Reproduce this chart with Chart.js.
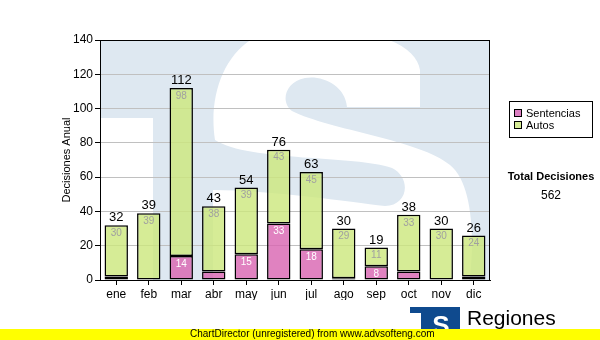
<!DOCTYPE html>
<html>
<head>
<meta charset="utf-8">
<title>Decisiones Anual</title>
<script src="https://cdn.jsdelivr.net/npm/chart.js@4.4.1/dist/chart.umd.min.js"></script>
<style>
  html, body { margin: 0; padding: 0; background: #fff; }
  #wrap { width: 600px; height: 340px; }
</style>
</head>
<body>
<div id="wrap"><canvas id="myChart" width="600" height="340"></canvas></div>
<script>
// monthly decisions, stacked: sentencias at the bottom, autos on top
const meses = ['ene', 'feb', 'mar', 'abr', 'may', 'jun', 'jul', 'ago', 'sep', 'oct', 'nov', 'dic'];
const sentencias = [2, 0, 14, 5, 15, 33, 18, 1, 8, 5, 0, 2];
const autos = [30, 39, 98, 38, 39, 43, 45, 29, 11, 33, 30, 24];
const totales = [32, 39, 112, 43, 54, 76, 63, 30, 19, 38, 30, 26];
const yMax = 140;
const yStep = 20;

const totalDecisiones = totales.reduce((a, b) => a + b, 0);

const FONT = '"Liberation Sans", Arial, sans-serif';

// the big "TS" logo behind the plot area
function drawWatermark(ctx, a) {
  const L = a.left, T = a.top;
  const P = (u, v) => [L + u, T + v];
  ctx.save();
  ctx.beginPath();
  ctx.rect(a.left, a.top, a.right - a.left, a.bottom - a.top);
  ctx.clip();

  // blue field with the white letters cut out (evenodd)
  ctx.beginPath();
  ctx.rect(a.left, a.top, a.right - a.left, a.bottom - a.top);
  // white area left of the T stem
  ctx.rect(L, T + 78, 53, 170);
  // the S
  ctx.moveTo(...P(115, 100));
  ctx.bezierCurveTo(...P(108, 55), ...P(125, 10), ...P(160, -5));
  ctx.lineTo(...P(270, -5));
  ctx.bezierCurveTo(...P(300, 0), ...P(318, 15), ...P(320, 30));
  ctx.lineTo(...P(320, 67));
  ctx.lineTo(...P(247, 67));
  ctx.bezierCurveTo(...P(245, 45), ...P(222, 35), ...P(205, 38));
  ctx.bezierCurveTo(...P(185, 42), ...P(180, 62), ...P(192, 71));
  ctx.bezierCurveTo(...P(230, 90), ...P(320, 100), ...P(350, 125));
  ctx.bezierCurveTo(...P(375, 145), ...P(375, 210), ...P(368, 250));
  ctx.lineTo(...P(113, 250));
  ctx.lineTo(...P(113, 150));
  ctx.bezierCurveTo(...P(170, 150), ...P(250, 162), ...P(285, 166));
  ctx.bezierCurveTo(...P(308, 166), ...P(312, 138), ...P(292, 128));
  ctx.bezierCurveTo(...P(255, 115), ...P(150, 122), ...P(115, 100));
  ctx.closePath();
  ctx.fillStyle = '#dee8f1';
  ctx.fill('evenodd');
  ctx.restore();
}

const decorPlugin = {
  id: 'decor',
  beforeDraw(chart) {
    const ctx = chart.ctx;
    ctx.save();
    ctx.fillStyle = '#ffffff';
    ctx.fillRect(0, 0, chart.width, chart.height);
    ctx.restore();
    drawWatermark(ctx, chart.chartArea);
  },
  afterDatasetsDraw(chart) {
    const ctx = chart.ctx;
    const a = chart.chartArea;

    // plot frame
    ctx.save();
    ctx.strokeStyle = '#000';
    ctx.lineWidth = 1;
    ctx.strokeRect(a.left + 0.5, a.top + 0.5, a.right - a.left - 1, a.bottom - a.top);
    ctx.restore();

    // value labels
    const metaS = chart.getDatasetMeta(0);
    const metaA = chart.getDatasetMeta(1);
    ctx.save();
    ctx.textAlign = 'center';
    metaA.data.forEach((bar, i) => {
      // total above the stack
      ctx.fillStyle = '#000';
      ctx.font = '13px ' + FONT;
      ctx.textBaseline = 'bottom';
      ctx.fillText(String(totales[i]), bar.x, bar.y - 1);
      // autos inside the top of its segment
      ctx.fillStyle = '#a0a0a0';
      ctx.font = '10px ' + FONT;
      ctx.textBaseline = 'top';
      if (autos[i] > 0) ctx.fillText(String(autos[i]), bar.x, bar.y + 3);
    });
    metaS.data.forEach((bar, i) => {
      if (sentencias[i] >= 8) {
        ctx.fillStyle = '#ffffff';
        ctx.font = '10px ' + FONT;
        ctx.textBaseline = 'top';
        ctx.fillText(String(sentencias[i]), bar.x, bar.y + 3);
      }
    });
    ctx.restore();
  },
  afterDraw(chart) {
    const ctx = chart.ctx;
    ctx.save();

    // y axis title
    ctx.translate(67, 160);
    ctx.rotate(-Math.PI / 2);
    ctx.fillStyle = '#000';
    ctx.font = '11px ' + FONT;
    ctx.textAlign = 'center';
    ctx.textBaseline = 'middle';
    ctx.fillText('Decisiones Anual', 0, 0);
    ctx.setTransform(1, 0, 0, 1, 0, 0);

    // legend box
    ctx.fillStyle = '#fff';
    ctx.fillRect(509, 101, 83, 36);
    ctx.strokeStyle = '#000';
    ctx.lineWidth = 1;
    ctx.strokeRect(509.5, 101.5, 83, 36);
    const entries = [['Sentencias', '#dc7fc2', 113],
                     ['Autos', '#d6ec96', 125]];
    entries.forEach(([txt, col, y]) => {
      ctx.fillStyle = col;
      ctx.fillRect(514, y - 4, 8, 8);
      ctx.strokeRect(514.5, y - 3.5, 7, 7);
      ctx.fillStyle = '#000';
      ctx.font = '11px ' + FONT;
      ctx.textAlign = 'left';
      ctx.textBaseline = 'middle';
      ctx.fillText(txt, 526, y + 0.5);
    });

    // total
    ctx.textAlign = 'center';
    ctx.font = 'bold 11px ' + FONT;
    ctx.fillText('Total Decisiones', 551, 177);
    ctx.font = '12px ' + FONT;
    ctx.fillText(String(totalDecisiones), 551, 196);

    // footer logo and name
    ctx.fillStyle = '#0f4a8e';
    ctx.fillRect(410, 307, 50, 28);
    ctx.fillStyle = '#fff';
    ctx.fillRect(410, 313, 11, 22);
    ctx.font = 'bold 26px ' + FONT;
    ctx.textAlign = 'center';
    ctx.textBaseline = 'alphabetic';
    ctx.fillText('S', 441, 334);
    ctx.fillStyle = '#000';
    ctx.font = '21px ' + FONT;
    ctx.textAlign = 'left';
    ctx.fillText('Regiones', 467, 325);
    ctx.font = '10px ' + FONT;
    ctx.fillText('Tribunal Supremo de Justicia', 467, 337);

    // unregistered banner
    ctx.fillStyle = '#ffff00';
    ctx.fillRect(0, 329, 600, 11);
    ctx.fillStyle = '#000';
    ctx.font = '10px ' + FONT;
    ctx.textAlign = 'left';
    ctx.textBaseline = 'middle';
    ctx.fillText('ChartDirector (unregistered) from www.advsofteng.com', 190, 334.5);
    ctx.restore();
  }
};

let ctx = document.getElementById('myChart');
new Chart(ctx, {
  type: 'bar',
  data: {
    labels: meses,
    datasets: [{
      label: 'Sentencias',
      data: sentencias,
      backgroundColor: 'rgba(216, 99, 176, 0.8)',
      borderColor: '#000',
      borderWidth: 1.5,
      borderSkipped: false,
      barPercentage: 0.72,
      categoryPercentage: 1
    }, {
      label: 'Autos',
      data: autos,
      backgroundColor: 'rgba(204, 231, 124, 0.8)',
      borderColor: '#000',
      borderWidth: 1.5,
      borderSkipped: false,
      barPercentage: 0.72,
      categoryPercentage: 1
    }]
  },
  options: {
    responsive: false,
    animation: false,
    layout: { padding: { left: 0, top: 40, right: 110, bottom: 40 } },
    plugins: {
      legend: { display: false },
      tooltip: { enabled: false }
    },
    scales: {
      x: {
        stacked: true,
        grid: { display: true, drawOnChartArea: false, offset: false, tickLength: 5, tickColor: '#000' },
        border: { color: '#000' },
        ticks: { color: '#000', font: { family: FONT, size: 12 }, padding: 2 },
        afterFit(scale) { scale.height = 20; }
      },
      y: {
        stacked: true,
        min: 0,
        max: yMax,
        grid: { color: '#c0c0c0', tickLength: 5, tickColor: '#000' },
        border: { color: '#000' },
        ticks: { stepSize: yStep, color: '#000', font: { family: FONT, size: 12 }, padding: 2 },
        afterFit(scale) { scale.width = 100; }
      }
    }
  },
  plugins: [decorPlugin]
});
</script>
</body>
</html>
